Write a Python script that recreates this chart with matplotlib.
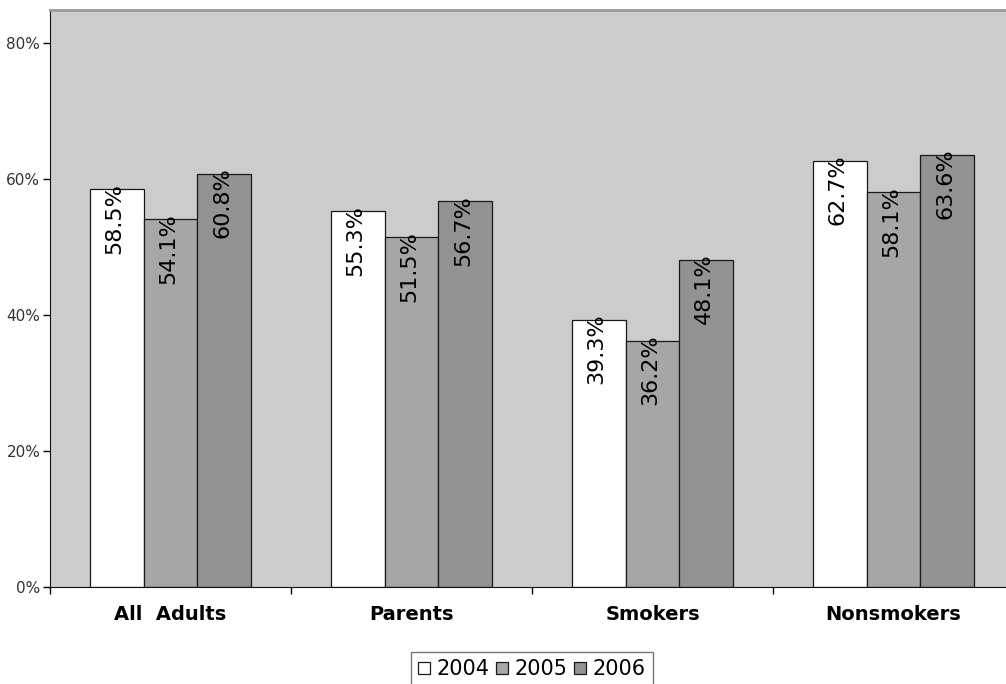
import matplotlib.pyplot as plt
import numpy as np

categories = ['All  Adults', 'Parents', 'Smokers', 'Nonsmokers']
years = ['2004', '2005', '2006']
values = {
    '2004': [58.5, 55.3, 39.3, 62.7],
    '2005': [54.1, 51.5, 36.2, 58.1],
    '2006': [60.8, 56.7, 48.1, 63.6],
}
colors = {'2004': '#ffffff', '2005': '#a6a6a6', '2006': '#929292'}

fig = plt.figure(figsize=(10.06, 6.84), dpi=100)
ax = fig.add_axes([50 / 1006, 1 - 587 / 684, 964 / 1006, 577 / 684])
ax.set_facecolor('#cccccc')

x = np.arange(len(categories))
width = 0.224
offsets = [-width, 0, width]

handles = []
for year, off in zip(years, offsets):
    bars = ax.bar(x + off, values[year], width, color=colors[year],
                  edgecolor='#1a1a1a', linewidth=0.9, label=year)
    handles.append(bars)
    for xi, v in zip(x + off, values[year]):
        ax.text(xi - 0.01, v + 0.9, f'{v:.1f}%', rotation=90, ha='center', va='top',
                fontsize=16, color='black')

ax.set_xlim(-0.5, len(categories) - 0.5)
ax.set_ylim(0, 84.85)

ax.set_yticks([0, 20, 40, 60, 80])
ax.set_yticklabels(['0%', '20%', '40%', '60%', '80%'], fontsize=11, color='#333333')
ax.tick_params(axis='y', direction='out', length=5, width=1, pad=2)

# category ticks sit on the group boundaries, labels at the group centres
ax.set_xticks(np.arange(len(categories) + 1) - 0.5)
ax.set_xticklabels([])
ax.set_xticks(x, minor=True)
ax.set_xticklabels(categories, minor=True, fontsize=14, fontweight='bold')
ax.tick_params(axis='x', which='major', direction='out', length=5, width=1)
ax.tick_params(axis='x', which='minor', length=0, pad=13)

ax.spines['left'].set_color('#111111')
ax.spines['bottom'].set_color('#111111')
ax.spines['top'].set_color('#999999')
ax.spines['top'].set_linewidth(2)
ax.spines['right'].set_visible(False)

leg = fig.legend(handles=handles, labels=years, loc='upper center',
                 bbox_to_anchor=(532 / 1006, 1 - 652 / 684), ncol=3,
                 fontsize=15, frameon=True, fancybox=False, edgecolor='#555555',
                 handlelength=0.55, handleheight=0.55, handletextpad=0.35,
                 columnspacing=0.3, borderpad=0.35, borderaxespad=0)
leg.get_frame().set_linewidth(1)

fig.savefig('out.png', dpi=100)
